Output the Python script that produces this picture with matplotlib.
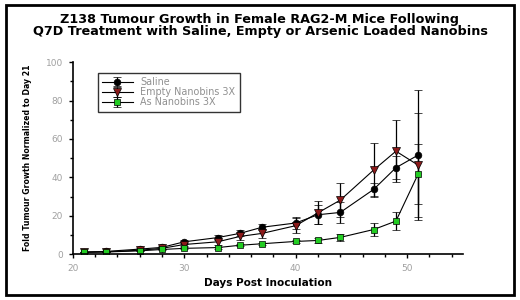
import matplotlib
matplotlib.use("Agg")
import matplotlib.pyplot as plt
from matplotlib.ticker import MultipleLocator
from matplotlib.patches import Rectangle

days = [21, 23, 26, 28, 30, 33, 35, 37, 40, 42, 44, 47, 49, 51]
saline = [1.0, 1.4, 2.6, 3.5, 6.4, 8.6, 10.8, 14.0, 16.2, 20.5, 21.7, 33.7, 45.0, 51.6]
saline_err = [0.2, 0.3, 0.5, 0.8, 1.2, 1.5, 1.5, 1.5, 3.0, 5.0, 5.5, 3.5, 6.0, 34.0]
empty = [1.0, 1.2, 2.0, 3.0, 5.0, 6.4, 9.2, 10.8, 14.8, 21.5, 28.1, 43.8, 53.6, 46.3]
empty_err = [0.2, 0.2, 0.3, 0.5, 1.0, 1.5, 2.0, 2.5, 4.0, 6.0, 9.0, 14.2, 16.2, 27.0]
asnb = [1.0, 1.1, 1.7, 2.4, 3.0, 3.4, 4.6, 5.4, 6.6, 7.1, 8.7, 12.8, 17.2, 41.8]
asnb_err = [0.1, 0.1, 0.3, 0.4, 0.5, 0.5, 0.6, 0.6, 0.8, 1.5, 2.0, 3.3, 4.6, 15.8]

labels = ["Saline", "Empty Nanobins 3X", "As Nanobins 3X"]
title = "Z138 Tumour Growth in Female RAG2-M Mice Following\nQ7D Treatment with Saline, Empty or Arsenic Loaded Nanobins"

fig = plt.figure(figsize=(5.2, 3.0), dpi=100)
ax = fig.add_axes([0.140, 0.153, 0.750, 0.640])

common = dict(color="black", lw=0.8, elinewidth=0.9, capsize=3.0, capthick=0.9,
              markeredgecolor="black", markeredgewidth=0.5)
ax.errorbar(days, saline, yerr=saline_err, marker="o", markersize=4.8,
            markerfacecolor="black", label=labels[0], **common)
ax.errorbar(days, empty, yerr=empty_err, marker="v", markersize=5.3,
            markerfacecolor="#8b1a1a", label=labels[1], **common)
ax.errorbar(days, asnb, yerr=asnb_err, marker="s", markersize=4.5,
            markerfacecolor="#22cc22", label=labels[2], **common)

ax.set_xlim(20, 55)
ax.set_ylim(0, 100)
ax.xaxis.set_major_locator(MultipleLocator(10))
ax.xaxis.set_minor_locator(MultipleLocator(2))
ax.yaxis.set_major_locator(MultipleLocator(20))
ax.yaxis.set_minor_locator(MultipleLocator(10))
for s in ["top", "right"]:
    ax.spines[s].set_visible(False)
for s in ["left", "bottom"]:
    ax.spines[s].set_linewidth(1.2)
ax.tick_params(which="major", direction="out", length=3, width=1, labelsize=6.5,
               labelcolor="#a0a0a0", pad=4)
ax.tick_params(which="minor", direction="out", length=2, width=1)

ax.set_xlabel("Days Post Inoculation", fontsize=7.6, fontweight="bold", labelpad=4)
ax.set_ylabel("Fold Tumour Growth Normalized to Day 21", fontsize=5.6,
              fontweight="bold", labelpad=10)

fig.text(0.5, 0.955, title, ha="center", va="top", fontsize=9.2,
         fontweight="bold", linespacing=0.88)

leg = ax.legend(loc="upper left", bbox_to_anchor=(0.064, 0.945), fontsize=6.9,
                frameon=True, fancybox=False, edgecolor="black", handlelength=3.2,
                borderpad=0.45, labelspacing=0.02, handletextpad=0.8,
                borderaxespad=0)
leg.get_frame().set_linewidth(1.0)
for t in leg.get_texts():
    t.set_color("#909090")

fig.patches.append(Rectangle((0.011, 0.018), 0.978, 0.967, transform=fig.transFigure,
                             fill=False, edgecolor="black", linewidth=2))

fig.savefig("out.png", dpi=100)
